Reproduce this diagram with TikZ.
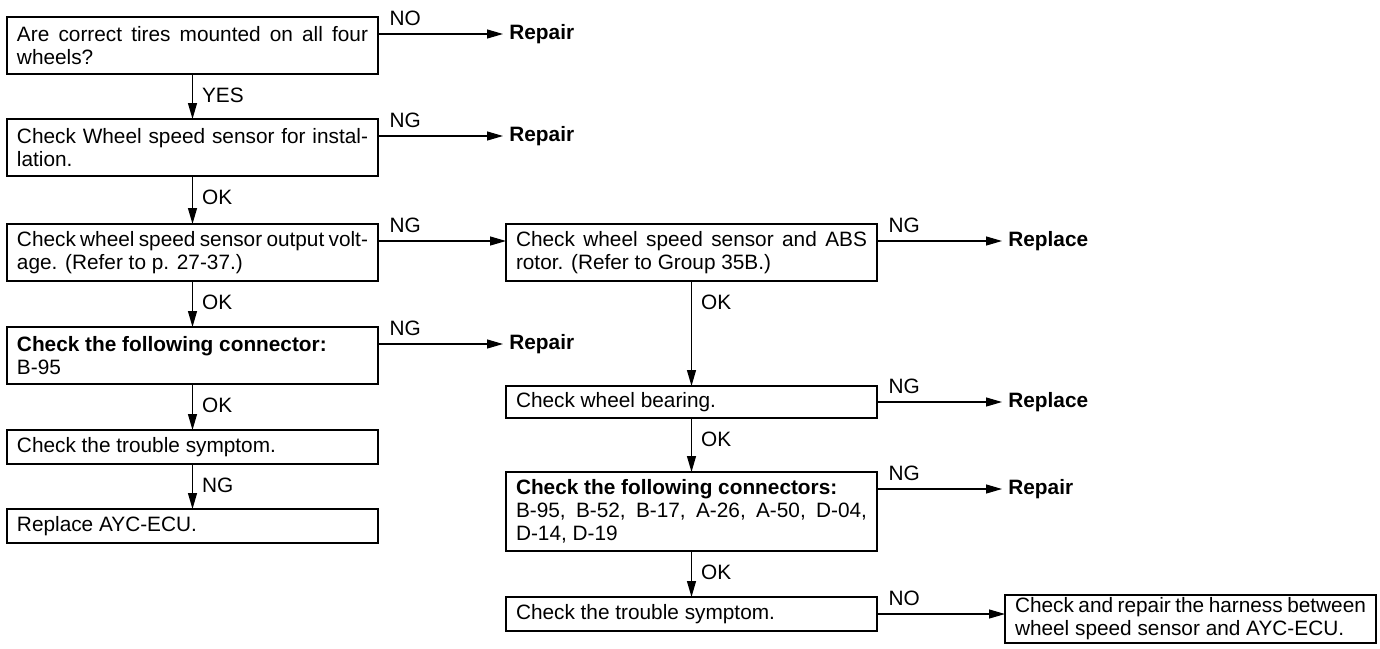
\documentclass[tikz,border=0pt]{standalone}
\usepackage{fontspec}
\setmainfont{Liberation Sans}
\usepackage{tikz}
\usetikzlibrary{arrows.meta,positioning}
\newcommand{\chartfont}{\fontsize{10.4pt}{11.5pt}\selectfont}

\begin{document}
\begin{tikzpicture}[
    node distance=23pt and 64pt,
    block/.style={rectangle, draw, line width=0.6pt, outer sep=0pt, text width=175.5pt, inner xsep=5pt, inner ysep=2pt, align=justify, font=\chartfont},
    oneline/.style={block, minimum height=17pt},
    twoline/.style={block, minimum height=28.5pt},
    threeline/.style={block, minimum height=39.5pt},
    result/.style={font=\chartfont\bfseries, inner xsep=3pt, inner ysep=0pt},
    arrow/.style={-{Triangle[length=8pt, width=4.5pt]}, line width=0.6pt},
    vlab/.style={font=\chartfont, inner sep=0pt, anchor=base west, xshift=4.5pt, yshift=-14.25pt},
    hlab/.style={font=\chartfont, inner sep=0pt, anchor=base west, xshift=5.5pt, yshift=4.25pt},
]
\useasboundingbox (0,0) rectangle (690pt,-324pt);

\node[twoline, anchor=north west] (tires) at (3.5pt,-8.5pt) {Are correct tires mounted on all four\linebreak wheels?};
\node[twoline, below=22.5pt of tires] (install) {Check Wheel speed sensor for instal-\linebreak lation.};
\node[twoline, below=24pt of install] (voltage) {Check wheel speed sensor output volt-\linebreak age. (Refer to p. 27-37.)};
\node[twoline, below=of voltage] (conn) {\textbf{Check the following connector:}\\B-95};
\node[oneline, below=of conn] (symptom) {Check the trouble symptom.};
\node[oneline, below=22.5pt of symptom] (ecu) {Replace AYC-ECU.};

\node[twoline, right=of voltage] (rotor) {Check wheel speed sensor and ABS\linebreak rotor. (Refer to Group 35B.)};
\node[oneline, minimum height=16pt, below=52.5pt of rotor] (bearing) {Check wheel bearing.};
\node[threeline, below=27pt of bearing] (conns) {\textbf{Check the following connectors:}\\B-95, B-52, B-17, A-26, A-50, D-04,\linebreak D-14, D-19};
\node[oneline, below=of conns] (symptom2) {Check the trouble symptom.};
\node[block, minimum height=24pt, inner ysep=1pt, right=of symptom2.north east, anchor=north west, yshift=1pt] (harness) {\parfillskip=0pt Check and repair the harness between\linebreak wheel speed sensor and AYC-ECU.};

\node[result, below right=8.5pt and 62.5pt of tires.north east, anchor=west] (rep1) {Repair};
\node[result, below right=8.5pt and 62.5pt of install.north east, anchor=west] (rep2) {Repair};
\node[result, below right=8.5pt and 62.5pt of conn.north east, anchor=west] (rep3) {Repair};
\node[result, below right=8.5pt and 62.5pt of rotor.north east, anchor=west] (repl1) {Replace};
\node[result, right=62.5pt of bearing] (repl2) {Replace};
\node[result, below right=8.5pt and 62.5pt of conns.north east, anchor=west] (rep4) {Repair};

\draw[arrow] (tires) -- node[vlab, at start] {YES} (install);
\draw[arrow] (install) -- node[vlab, at start] {OK} (voltage);
\draw[arrow] (voltage) -- node[vlab, at start] {OK} (conn);
\draw[arrow] (conn) -- node[vlab, at start] {OK} (symptom);
\draw[arrow] (symptom) -- node[vlab, at start] {NG} (ecu);
\draw[arrow] (rotor) -- node[vlab, at start] {OK} (bearing);
\draw[arrow] (bearing) -- node[vlab, at start] {OK} (conns);
\draw[arrow] (conns) -- node[vlab, at start] {OK} (symptom2);

\draw[arrow] (tires.east |- rep1) -- node[hlab, at start] {NO} (rep1);
\draw[arrow] (install.east |- rep2) -- node[hlab, at start] {NG} (rep2);
\draw[arrow] (conn.east |- rep3) -- node[hlab, at start] {NG} (rep3);
\draw[arrow] ([yshift=-8.5pt]voltage.north east) -- node[hlab, at start] {NG} ([yshift=-8.5pt]rotor.north west);
\draw[arrow] (rotor.east |- repl1) -- node[hlab, at start] {NG} (repl1);
\draw[arrow] (bearing) -- node[hlab, at start] {NG} (repl2);
\draw[arrow] (conns.east |- rep4) -- node[hlab, at start] {NG} (rep4);
\draw[arrow] (symptom2) -- node[hlab, at start] {NO} (symptom2 -| harness.west);
\end{tikzpicture}
\end{document}
